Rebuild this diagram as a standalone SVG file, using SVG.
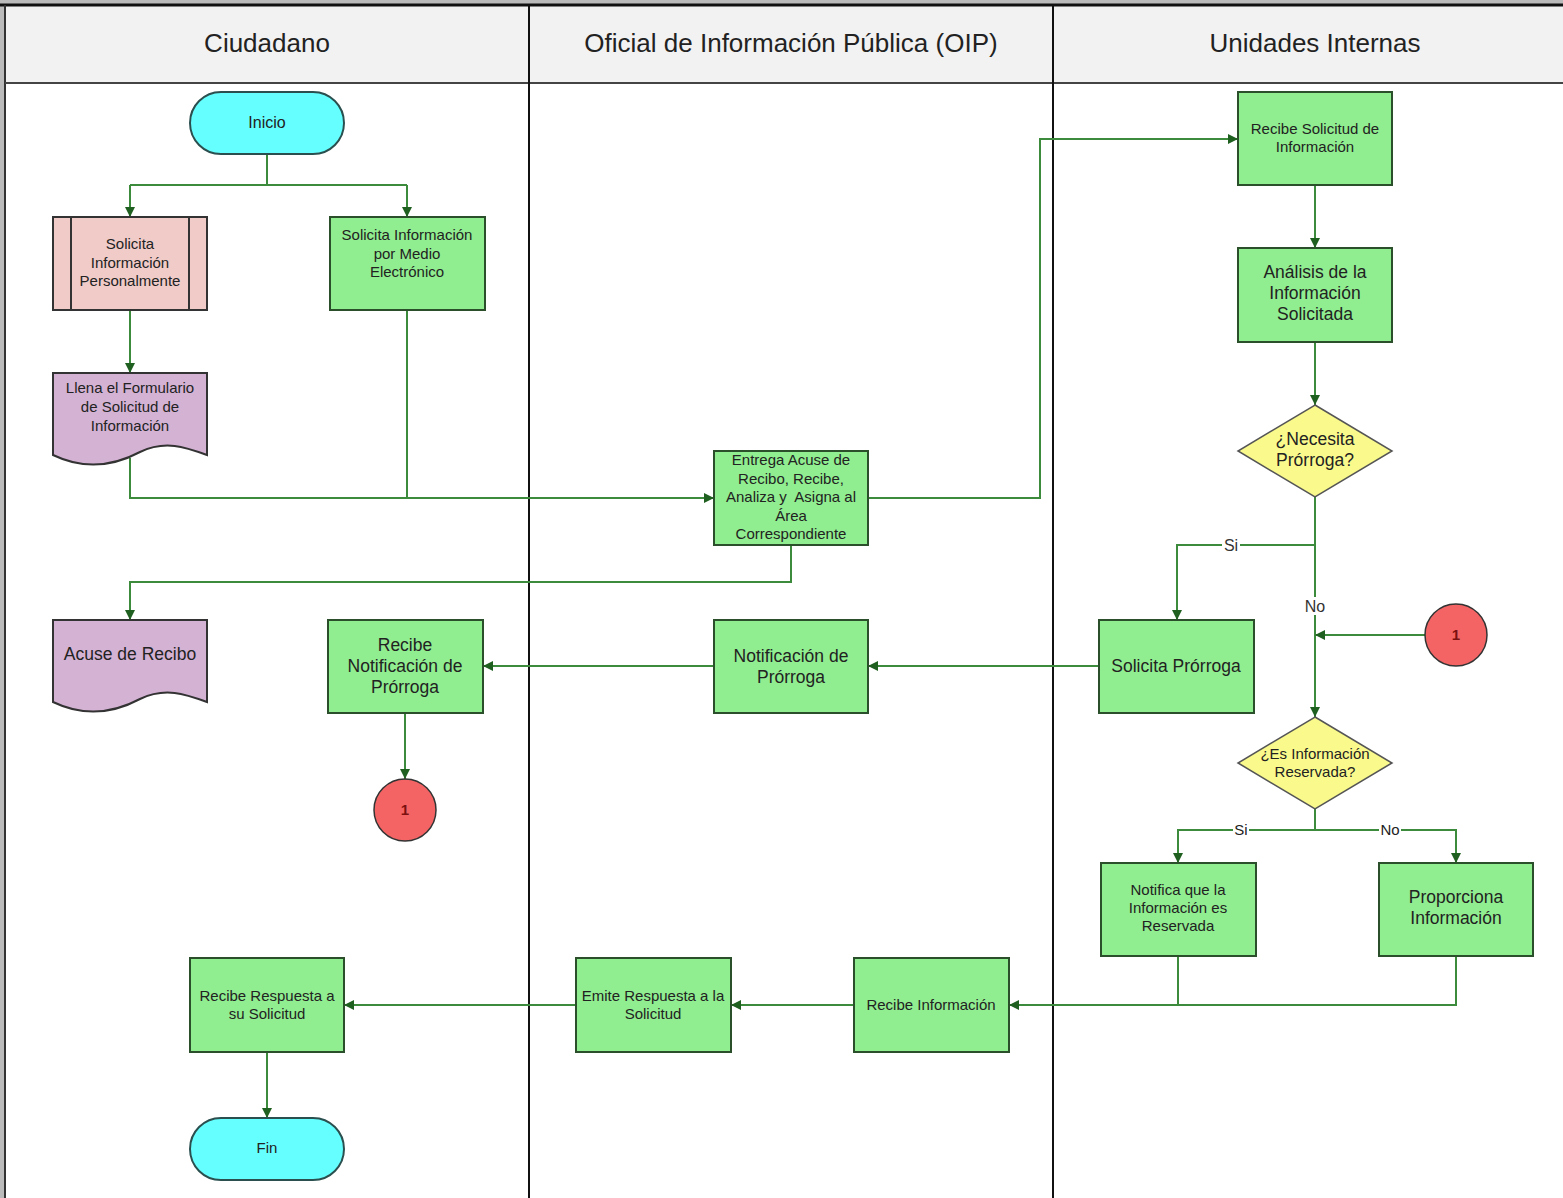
<svg xmlns="http://www.w3.org/2000/svg" width="1563" height="1198" viewBox="0 0 1563 1198">
<defs>
<marker id="ah" viewBox="0 0 10 10" refX="10" refY="5" markerWidth="10" markerHeight="10" markerUnits="userSpaceOnUse" orient="auto">
<path d="M0,0 L10,5 L0,10 Z" fill="#1f5f1f"/>
</marker>
<style>
.hdr{font-family:"Liberation Sans",Arial,sans-serif;font-size:26px;fill:#222;text-anchor:middle}
.t{font-family:"Liberation Sans",Arial,sans-serif;font-size:15px;fill:#222;text-anchor:middle}
.tl{font-family:"Liberation Sans",Arial,sans-serif;font-size:17.5px;fill:#222;text-anchor:middle}
.g{fill:#90ee90;stroke:#2b4f2b;stroke-width:2}
.term{fill:#66ffff;stroke:#2b4f4f;stroke-width:2}
.doc{fill:#d4b2d4;stroke:#333;stroke-width:2}
.pp{fill:#f0cbc8;stroke:#333;stroke-width:2}
.dia{fill:#fafa8c;stroke:#555;stroke-width:1.5}
.circ{fill:#f46464;stroke:#333;stroke-width:1.5}
.c{fill:none;stroke:#3c8a3c;stroke-width:2}
.ca{fill:none;stroke:#3c8a3c;stroke-width:2;marker-end:url(#ah)}
.lbl{font-family:"Liberation Sans",Arial,sans-serif;font-size:16px;fill:#333;text-anchor:middle}
</style>
</defs>
<rect x="0" y="0" width="1563" height="1198" fill="#ffffff"/>
<rect x="0" y="0" width="1563" height="4" fill="#bbbbbb"/>
<rect x="0" y="0" width="4" height="1198" fill="#bbbbbb"/>
<g id="lanes">
<rect x="5" y="5" width="1560" height="78" fill="#f2f2f2"/>
<line x1="0" y1="5" x2="1563" y2="5" stroke="#111" stroke-width="3"/>
<line x1="5" y1="5" x2="5" y2="1198" stroke="#333" stroke-width="2"/>
<line x1="5" y1="83" x2="1563" y2="83" stroke="#444" stroke-width="2"/>
<line x1="529" y1="5" x2="529" y2="1198" stroke="#111" stroke-width="2"/>
<line x1="1053" y1="5" x2="1053" y2="1198" stroke="#111" stroke-width="2"/>
<text class="hdr" x="267" y="52">Ciudadano</text>
<text class="hdr" x="791" y="52">Oficial de Información Pública (OIP)</text>
<text class="hdr" x="1315" y="52">Unidades Internas</text>
</g>
<g id="connectors">
<path class="c" d="M267,154 V185 M130,185 H407"/>
<path class="ca" d="M130,185 V217"/>
<path class="ca" d="M407,185 V217"/>
<path class="ca" d="M130,310 V373"/>
<path class="c" d="M130,458 V498 H714"/>
<path class="ca" d="M407,310 V498 H714"/>
<path class="ca" d="M868,498 H1040 V139 H1238"/>
<path class="ca" d="M791,545 V582 H130 V620"/>
<path class="ca" d="M1315,185 V248"/>
<path class="ca" d="M1315,342 V405"/>
<path class="ca" d="M1315,497 V545 H1177 V620"/>
<path class="ca" d="M1315,545 V717"/>
<path class="ca" d="M1425,635 H1315"/>
<path class="ca" d="M1099,666 H868"/>
<path class="ca" d="M714,666 H483"/>
<path class="ca" d="M405,713 V779"/>
<path class="ca" d="M1315,809 V830 H1178 V863"/>
<path class="ca" d="M1315,830 H1456 V863"/>
<path class="c" d="M1178,956 V1005"/>
<path class="ca" d="M1456,956 V1005 H1009"/>
<path class="ca" d="M854,1005 H731"/>
<path class="ca" d="M576,1005 H344"/>
<path class="ca" d="M267,1052 V1118"/>
<rect x="1222" y="537" width="18" height="16" fill="#fff"/>
<text class="lbl" x="1231" y="551">Si</text>
<rect x="1302" y="597" width="26" height="18" fill="#fff"/>
<text class="lbl" x="1315" y="612">No</text>
<rect x="1233" y="823" width="16" height="14" fill="#fff"/>
<text class="t" x="1241" y="835">Si</text>
<rect x="1379" y="823" width="22" height="14" fill="#fff"/>
<text class="t" x="1390" y="835">No</text>
</g>
<g id="inicio">
<rect class="term" x="190" y="92" width="154" height="62" rx="31"/>
<text class="t" x="267" y="128" style="font-size:16px">Inicio</text>
</g>
<g id="solicita-personal">
<rect class="pp" x="53" y="217" width="154" height="93"/>
<line x1="71" y1="217" x2="71" y2="310" stroke="#333" stroke-width="2"/>
<line x1="189" y1="217" x2="189" y2="310" stroke="#333" stroke-width="2"/>
<text class="t" x="130" y="249">Solicita</text>
<text class="t" x="130" y="268">Información</text>
<text class="t" x="130" y="286">Personalmente</text>
</g>
<g id="solicita-electronico">
<rect class="g" x="330" y="217" width="155" height="93"/>
<text class="t" x="407" y="240">Solicita Información</text>
<text class="t" x="407" y="259">por Medio</text>
<text class="t" x="407" y="277">Electrónico</text>
</g>
<g id="llena-formulario">
<path class="doc" d="M53,373 H207 V455 C185,447 165,440 140,452 C110,468 80,468 53,455 Z"/>
<text class="t" x="130" y="393">Llena el Formulario</text>
<text class="t" x="130" y="412">de Solicitud de</text>
<text class="t" x="130" y="431">Información</text>
</g>
<g id="entrega-acuse">
<rect class="g" x="714" y="451" width="154" height="94"/>
<text class="t" x="791" y="465">Entrega Acuse de</text>
<text class="t" x="791" y="484">Recibo, Recibe,</text>
<text class="t" x="791" y="502" xml:space="preserve">Analiza y  Asigna al</text>
<text class="t" x="791" y="521">Área</text>
<text class="t" x="791" y="539">Correspondiente</text>
</g>
<g id="acuse-recibo">
<path class="doc" d="M53,620 H207 V702 C185,694 165,687 140,699 C110,715 80,715 53,702 Z"/>
<text class="tl" x="130" y="660">Acuse de Recibo</text>
</g>
<g id="recibe-notificacion">
<rect class="g" x="328" y="620" width="155" height="93"/>
<text class="tl" x="405" y="651">Recibe</text>
<text class="tl" x="405" y="672">Notificación de</text>
<text class="tl" x="405" y="693">Prórroga</text>
</g>
<g id="notificacion-prorroga">
<rect class="g" x="714" y="620" width="154" height="93"/>
<text class="tl" x="791" y="662">Notificación de</text>
<text class="tl" x="791" y="683">Prórroga</text>
</g>
<g id="solicita-prorroga">
<rect class="g" x="1099" y="620" width="155" height="93"/>
<text class="tl" x="1176" y="672">Solicita Prórroga</text>
</g>
<g id="conector-1-izq">
<circle class="circ" cx="405" cy="810" r="31"/>
<text class="t" x="405" y="815" style="fill:#7a1010;font-weight:bold">1</text>
</g>
<g id="conector-1-der">
<circle class="circ" cx="1456" cy="635" r="31"/>
<text class="t" x="1456" y="640" style="fill:#7a1010;font-weight:bold">1</text>
</g>
<g id="recibe-solicitud">
<rect class="g" x="1238" y="92" width="154" height="93"/>
<text class="t" x="1315" y="134">Recibe Solicitud de</text>
<text class="t" x="1315" y="152">Información</text>
</g>
<g id="analisis">
<rect class="g" x="1238" y="248" width="154" height="94"/>
<text class="tl" x="1315" y="278">Análisis de la</text>
<text class="tl" x="1315" y="299">Información</text>
<text class="tl" x="1315" y="320">Solicitada</text>
</g>
<g id="necesita-prorroga">
<polygon class="dia" points="1315,405 1392,451 1315,497 1238,451"/>
<text class="tl" x="1315" y="445">¿Necesita</text>
<text class="tl" x="1315" y="466">Prórroga?</text>
</g>
<g id="es-reservada">
<polygon class="dia" points="1315,717 1392,763 1315,809 1238,763"/>
<text class="t" x="1315" y="759">¿Es Información</text>
<text class="t" x="1315" y="777">Reservada?</text>
</g>
<g id="notifica-reservada">
<rect class="g" x="1101" y="863" width="155" height="93"/>
<text class="t" x="1178" y="895">Notifica que la</text>
<text class="t" x="1178" y="913">Información es</text>
<text class="t" x="1178" y="931">Reservada</text>
</g>
<g id="proporciona">
<rect class="g" x="1379" y="863" width="154" height="93"/>
<text class="tl" x="1456" y="903">Proporciona</text>
<text class="tl" x="1456" y="924">Información</text>
</g>
<g id="recibe-informacion">
<rect class="g" x="854" y="958" width="155" height="94"/>
<text class="t" x="931" y="1010">Recibe Información</text>
</g>
<g id="emite-respuesta">
<rect class="g" x="576" y="958" width="155" height="94"/>
<text class="t" x="653" y="1001">Emite Respuesta a la</text>
<text class="t" x="653" y="1019">Solicitud</text>
</g>
<g id="recibe-respuesta">
<rect class="g" x="190" y="958" width="154" height="94"/>
<text class="t" x="267" y="1001">Recibe Respuesta a</text>
<text class="t" x="267" y="1019">su Solicitud</text>
</g>
<g id="fin">
<rect class="term" x="190" y="1118" width="154" height="62" rx="31"/>
<text class="t" x="267" y="1153">Fin</text>
</g>
</svg>
